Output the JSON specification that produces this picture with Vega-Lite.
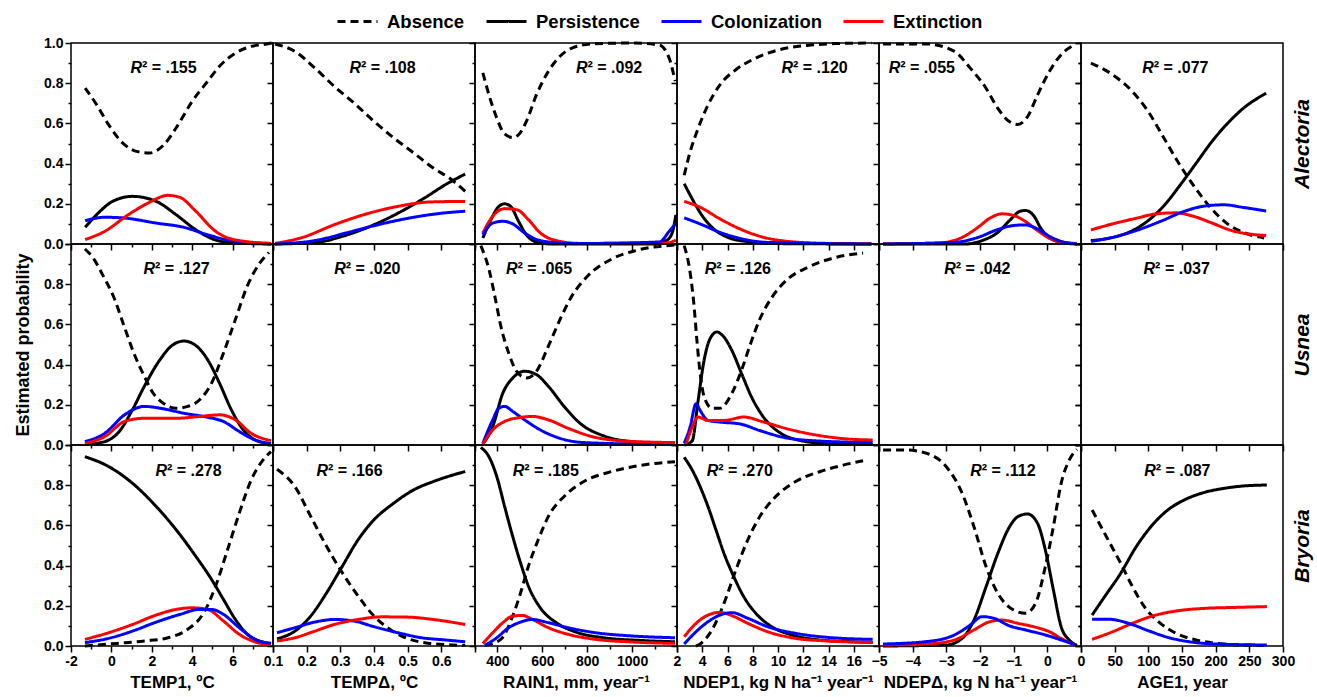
{
"$schema":"https://vega.github.io/schema/vega-lite/v6.json",
"padding":{"left":13,"top":0,"right":2,"bottom":4},
"background":"white",
"bounds":"flush",
"spacing":0,
"columns":6,
"datasets":{
"r2":[
{"p":"A1","x":0.94,"y":0.878,"t":"² = .155"},
{"p":"A2","x":0.327,"y":0.878,"t":"² = .108"},
{"p":"A3","x":750,"y":0.878,"t":"² = .092"},
{"p":"A4","x":10.28,"y":0.878,"t":"² = .120"},
{"p":"A5","x":-4.71,"y":0.878,"t":"² = .055"},
{"p":"A6","x":91,"y":0.878,"t":"² = .077"},
{"p":"U1","x":1.59,"y":0.878,"t":"² = .127"},
{"p":"U2","x":0.282,"y":0.878,"t":"² = .020"},
{"p":"U3","x":438,"y":0.878,"t":"² = .065"},
{"p":"U4","x":4.2,"y":0.878,"t":"² = .126"},
{"p":"U5","x":-3.06,"y":0.878,"t":"² = .042"},
{"p":"U6","x":93,"y":0.878,"t":"² = .037"},
{"p":"B1","x":2.18,"y":0.873,"t":"² = .278"},
{"p":"B2","x":0.229,"y":0.873,"t":"² = .166"},
{"p":"B3","x":468,"y":0.873,"t":"² = .185"},
{"p":"B4","x":4.36,"y":0.873,"t":"² = .270"},
{"p":"B5","x":-2.29,"y":0.873,"t":"² = .112"},
{"p":"B6","x":94,"y":0.873,"t":"² = .087"}
],
"curves":[
{"p":"A1","s":"Absence","x":-1.3,"y":0.776},{"p":"A1","s":"Absence","x":-0.73,"y":0.693},{"p":"A1","s":"Absence","x":-0.14,"y":0.594},{"p":"A1","s":"Absence","x":0.65,"y":0.494},{"p":"A1","s":"Absence","x":1.24,"y":0.461},{"p":"A1","s":"Absence","x":1.9,"y":0.453},{"p":"A1","s":"Absence","x":2.6,"y":0.494},{"p":"A1","s":"Absence","x":3.2,"y":0.577},{"p":"A1","s":"Absence","x":4.0,"y":0.71},{"p":"A1","s":"Absence","x":4.76,"y":0.809},{"p":"A1","s":"Absence","x":5.35,"y":0.884},{"p":"A1","s":"Absence","x":6.14,"y":0.95},{"p":"A1","s":"Absence","x":6.92,"y":0.983},{"p":"A1","s":"Absence","x":7.7,"y":0.995},{"p":"A1","s":"Absence","x":7.95,"y":1.0},
{"p":"A1","s":"Persistence","x":-1.3,"y":0.083},{"p":"A1","s":"Persistence","x":-0.73,"y":0.146},{"p":"A1","s":"Persistence","x":0.06,"y":0.212},{"p":"A1","s":"Persistence","x":1.04,"y":0.237},{"p":"A1","s":"Persistence","x":2.22,"y":0.212},{"p":"A1","s":"Persistence","x":3.2,"y":0.146},{"p":"A1","s":"Persistence","x":4.18,"y":0.071},{"p":"A1","s":"Persistence","x":5.16,"y":0.02},{"p":"A1","s":"Persistence","x":6.14,"y":0.005},{"p":"A1","s":"Persistence","x":7.9,"y":0.0},
{"p":"A1","s":"Colonization","x":-1.3,"y":0.116},{"p":"A1","s":"Colonization","x":-0.33,"y":0.133},{"p":"A1","s":"Colonization","x":0.65,"y":0.129},{"p":"A1","s":"Colonization","x":2.22,"y":0.104},{"p":"A1","s":"Colonization","x":3.59,"y":0.083},{"p":"A1","s":"Colonization","x":4.76,"y":0.046},{"p":"A1","s":"Colonization","x":5.75,"y":0.02},{"p":"A1","s":"Colonization","x":6.73,"y":0.008},{"p":"A1","s":"Colonization","x":7.9,"y":0.003},
{"p":"A1","s":"Extinction","x":-1.3,"y":0.022},{"p":"A1","s":"Extinction","x":-0.33,"y":0.063},{"p":"A1","s":"Extinction","x":0.84,"y":0.146},{"p":"A1","s":"Extinction","x":1.82,"y":0.204},{"p":"A1","s":"Extinction","x":2.8,"y":0.242},{"p":"A1","s":"Extinction","x":3.39,"y":0.232},{"p":"A1","s":"Extinction","x":4.18,"y":0.163},{"p":"A1","s":"Extinction","x":5.16,"y":0.063},{"p":"A1","s":"Extinction","x":5.94,"y":0.025},{"p":"A1","s":"Extinction","x":7.9,"y":0.002},

{"p":"A2","s":"Absence","x":0.106,"y":0.995},{"p":"A2","s":"Absence","x":0.165,"y":0.958},{"p":"A2","s":"Absence","x":0.224,"y":0.876},{"p":"A2","s":"Absence","x":0.282,"y":0.784},{"p":"A2","s":"Absence","x":0.341,"y":0.701},{"p":"A2","s":"Absence","x":0.4,"y":0.61},{"p":"A2","s":"Absence","x":0.459,"y":0.527},{"p":"A2","s":"Absence","x":0.518,"y":0.453},{"p":"A2","s":"Absence","x":0.576,"y":0.378},{"p":"A2","s":"Absence","x":0.624,"y":0.328},{"p":"A2","s":"Absence","x":0.671,"y":0.262},
{"p":"A2","s":"Persistence","x":0.106,"y":0.0},{"p":"A2","s":"Persistence","x":0.224,"y":0.007},{"p":"A2","s":"Persistence","x":0.306,"y":0.038},{"p":"A2","s":"Persistence","x":0.4,"y":0.096},{"p":"A2","s":"Persistence","x":0.482,"y":0.163},{"p":"A2","s":"Persistence","x":0.553,"y":0.232},{"p":"A2","s":"Persistence","x":0.612,"y":0.295},{"p":"A2","s":"Persistence","x":0.671,"y":0.348},
{"p":"A2","s":"Extinction","x":0.106,"y":0.003},{"p":"A2","s":"Extinction","x":0.188,"y":0.033},{"p":"A2","s":"Extinction","x":0.282,"y":0.096},{"p":"A2","s":"Extinction","x":0.376,"y":0.149},{"p":"A2","s":"Extinction","x":0.47,"y":0.187},{"p":"A2","s":"Extinction","x":0.565,"y":0.209},{"p":"A2","s":"Extinction","x":0.671,"y":0.212},
{"p":"A2","s":"Colonization","x":0.106,"y":0.0},{"p":"A2","s":"Colonization","x":0.224,"y":0.017},{"p":"A2","s":"Colonization","x":0.318,"y":0.055},{"p":"A2","s":"Colonization","x":0.412,"y":0.096},{"p":"A2","s":"Colonization","x":0.518,"y":0.133},{"p":"A2","s":"Colonization","x":0.6,"y":0.153},{"p":"A2","s":"Colonization","x":0.671,"y":0.163},

{"p":"A3","s":"Absence","x":335,"y":0.851},{"p":"A3","s":"Absence","x":362,"y":0.743},{"p":"A3","s":"Absence","x":397,"y":0.627},{"p":"A3","s":"Absence","x":430,"y":0.55},{"p":"A3","s":"Absence","x":468,"y":0.53},{"p":"A3","s":"Absence","x":495,"y":0.545},{"p":"A3","s":"Absence","x":529,"y":0.61},{"p":"A3","s":"Absence","x":574,"y":0.743},{"p":"A3","s":"Absence","x":627,"y":0.859},{"p":"A3","s":"Absence","x":679,"y":0.934},{"p":"A3","s":"Absence","x":732,"y":0.975},{"p":"A3","s":"Absence","x":821,"y":0.995},{"p":"A3","s":"Absence","x":997,"y":1.0},{"p":"A3","s":"Absence","x":1121,"y":0.99},{"p":"A3","s":"Absence","x":1165,"y":0.925},{"p":"A3","s":"Absence","x":1192,"y":0.81},
{"p":"A3","s":"Persistence","x":335,"y":0.03},{"p":"A3","s":"Persistence","x":371,"y":0.121},{"p":"A3","s":"Persistence","x":406,"y":0.187},{"p":"A3","s":"Persistence","x":432,"y":0.2},{"p":"A3","s":"Persistence","x":459,"y":0.187},{"p":"A3","s":"Persistence","x":494,"y":0.113},{"p":"A3","s":"Persistence","x":529,"y":0.046},{"p":"A3","s":"Persistence","x":574,"y":0.01},{"p":"A3","s":"Persistence","x":644,"y":0.0},{"p":"A3","s":"Persistence","x":1085,"y":0.0},{"p":"A3","s":"Persistence","x":1156,"y":0.02},{"p":"A3","s":"Persistence","x":1180,"y":0.06},{"p":"A3","s":"Persistence","x":1195,"y":0.146},
{"p":"A3","s":"Extinction","x":335,"y":0.055},{"p":"A3","s":"Extinction","x":379,"y":0.138},{"p":"A3","s":"Extinction","x":432,"y":0.176},{"p":"A3","s":"Extinction","x":485,"y":0.171},{"p":"A3","s":"Extinction","x":538,"y":0.121},{"p":"A3","s":"Extinction","x":591,"y":0.055},{"p":"A3","s":"Extinction","x":662,"y":0.017},{"p":"A3","s":"Extinction","x":768,"y":0.003},{"p":"A3","s":"Extinction","x":1156,"y":0.005},{"p":"A3","s":"Extinction","x":1195,"y":0.02},
{"p":"A3","s":"Colonization","x":335,"y":0.046},{"p":"A3","s":"Colonization","x":379,"y":0.104},{"p":"A3","s":"Colonization","x":424,"y":0.113},{"p":"A3","s":"Colonization","x":468,"y":0.1},{"p":"A3","s":"Colonization","x":521,"y":0.055},{"p":"A3","s":"Colonization","x":591,"y":0.017},{"p":"A3","s":"Colonization","x":732,"y":0.002},{"p":"A3","s":"Colonization","x":1121,"y":0.01},{"p":"A3","s":"Colonization","x":1165,"y":0.063},{"p":"A3","s":"Colonization","x":1195,"y":0.104},

{"p":"A4","s":"Absence","x":2.57,"y":0.342},{"p":"A4","s":"Absence","x":3.04,"y":0.458},{"p":"A4","s":"Absence","x":3.67,"y":0.575},{"p":"A4","s":"Absence","x":4.46,"y":0.692},{"p":"A4","s":"Absence","x":5.4,"y":0.792},{"p":"A4","s":"Absence","x":6.66,"y":0.867},{"p":"A4","s":"Absence","x":8.24,"y":0.925},{"p":"A4","s":"Absence","x":10.13,"y":0.967},{"p":"A4","s":"Absence","x":12.33,"y":0.988},{"p":"A4","s":"Absence","x":14.54,"y":0.997},{"p":"A4","s":"Absence","x":17.4,"y":1.0},
{"p":"A4","s":"Persistence","x":2.57,"y":0.3},{"p":"A4","s":"Persistence","x":3.2,"y":0.225},{"p":"A4","s":"Persistence","x":3.98,"y":0.142},{"p":"A4","s":"Persistence","x":4.77,"y":0.083},{"p":"A4","s":"Persistence","x":6.03,"y":0.033},{"p":"A4","s":"Persistence","x":7.6,"y":0.012},{"p":"A4","s":"Persistence","x":10.13,"y":0.002},{"p":"A4","s":"Persistence","x":17.4,"y":0.0},
{"p":"A4","s":"Extinction","x":2.57,"y":0.212},{"p":"A4","s":"Extinction","x":3.83,"y":0.183},{"p":"A4","s":"Extinction","x":5.4,"y":0.125},{"p":"A4","s":"Extinction","x":6.98,"y":0.075},{"p":"A4","s":"Extinction","x":8.87,"y":0.033},{"p":"A4","s":"Extinction","x":10.76,"y":0.013},{"p":"A4","s":"Extinction","x":13.9,"y":0.003},{"p":"A4","s":"Extinction","x":17.4,"y":0.001},
{"p":"A4","s":"Colonization","x":2.57,"y":0.13},{"p":"A4","s":"Colonization","x":3.83,"y":0.1},{"p":"A4","s":"Colonization","x":5.4,"y":0.058},{"p":"A4","s":"Colonization","x":6.98,"y":0.028},{"p":"A4","s":"Colonization","x":9.18,"y":0.008},{"p":"A4","s":"Colonization","x":17.4,"y":0.0},

{"p":"A5","s":"Absence","x":-4.88,"y":0.995},{"p":"A5","s":"Absence","x":-3.59,"y":0.995},{"p":"A5","s":"Absence","x":-2.76,"y":0.958},{"p":"A5","s":"Absence","x":-2.29,"y":0.875},{"p":"A5","s":"Absence","x":-1.82,"y":0.775},{"p":"A5","s":"Absence","x":-1.47,"y":0.675},{"p":"A5","s":"Absence","x":-1.12,"y":0.608},{"p":"A5","s":"Absence","x":-0.88,"y":0.595},{"p":"A5","s":"Absence","x":-0.59,"y":0.633},{"p":"A5","s":"Absence","x":-0.29,"y":0.742},{"p":"A5","s":"Absence","x":0.06,"y":0.858},{"p":"A5","s":"Absence","x":0.41,"y":0.942},{"p":"A5","s":"Absence","x":0.82,"y":0.992},
{"p":"A5","s":"Persistence","x":-4.88,"y":0.0},{"p":"A5","s":"Persistence","x":-2.41,"y":0.0},{"p":"A5","s":"Persistence","x":-1.94,"y":0.017},{"p":"A5","s":"Persistence","x":-1.47,"y":0.058},{"p":"A5","s":"Persistence","x":-1.12,"y":0.117},{"p":"A5","s":"Persistence","x":-0.82,"y":0.162},{"p":"A5","s":"Persistence","x":-0.65,"y":0.167},{"p":"A5","s":"Persistence","x":-0.41,"y":0.142},{"p":"A5","s":"Persistence","x":-0.18,"y":0.075},{"p":"A5","s":"Persistence","x":0.12,"y":0.025},{"p":"A5","s":"Persistence","x":0.53,"y":0.005},{"p":"A5","s":"Persistence","x":0.88,"y":0.0},
{"p":"A5","s":"Extinction","x":-4.88,"y":0.0},{"p":"A5","s":"Extinction","x":-3.24,"y":0.005},{"p":"A5","s":"Extinction","x":-2.53,"y":0.033},{"p":"A5","s":"Extinction","x":-2.06,"y":0.083},{"p":"A5","s":"Extinction","x":-1.71,"y":0.128},{"p":"A5","s":"Extinction","x":-1.35,"y":0.15},{"p":"A5","s":"Extinction","x":-1.0,"y":0.142},{"p":"A5","s":"Extinction","x":-0.65,"y":0.112},{"p":"A5","s":"Extinction","x":-0.29,"y":0.067},{"p":"A5","s":"Extinction","x":0.18,"y":0.02},{"p":"A5","s":"Extinction","x":0.88,"y":0.002},
{"p":"A5","s":"Colonization","x":-4.88,"y":0.0},{"p":"A5","s":"Colonization","x":-2.76,"y":0.008},{"p":"A5","s":"Colonization","x":-2.06,"y":0.033},{"p":"A5","s":"Colonization","x":-1.47,"y":0.072},{"p":"A5","s":"Colonization","x":-1.0,"y":0.092},{"p":"A5","s":"Colonization","x":-0.65,"y":0.095},{"p":"A5","s":"Colonization","x":-0.29,"y":0.075},{"p":"A5","s":"Colonization","x":0.12,"y":0.033},{"p":"A5","s":"Colonization","x":0.53,"y":0.008},{"p":"A5","s":"Colonization","x":0.88,"y":0.001},

{"p":"A6","s":"Absence","x":14.7,"y":0.9},{"p":"A6","s":"Absence","x":47,"y":0.842},{"p":"A6","s":"Absence","x":76.5,"y":0.758},{"p":"A6","s":"Absence","x":100,"y":0.658},{"p":"A6","s":"Absence","x":123.5,"y":0.525},{"p":"A6","s":"Absence","x":147,"y":0.392},{"p":"A6","s":"Absence","x":170.6,"y":0.275},{"p":"A6","s":"Absence","x":194,"y":0.175},{"p":"A6","s":"Absence","x":217.6,"y":0.1},{"p":"A6","s":"Absence","x":241,"y":0.058},{"p":"A6","s":"Absence","x":272,"y":0.03},
{"p":"A6","s":"Persistence","x":14.7,"y":0.017},{"p":"A6","s":"Persistence","x":47,"y":0.033},{"p":"A6","s":"Persistence","x":76.5,"y":0.067},{"p":"A6","s":"Persistence","x":100,"y":0.117},{"p":"A6","s":"Persistence","x":123.5,"y":0.192},{"p":"A6","s":"Persistence","x":147,"y":0.292},{"p":"A6","s":"Persistence","x":170.6,"y":0.4},{"p":"A6","s":"Persistence","x":194,"y":0.508},{"p":"A6","s":"Persistence","x":217.6,"y":0.6},{"p":"A6","s":"Persistence","x":241,"y":0.675},{"p":"A6","s":"Persistence","x":275,"y":0.75},
{"p":"A6","s":"Extinction","x":14.7,"y":0.07},{"p":"A6","s":"Extinction","x":47,"y":0.1},{"p":"A6","s":"Extinction","x":82,"y":0.128},{"p":"A6","s":"Extinction","x":112,"y":0.15},{"p":"A6","s":"Extinction","x":141,"y":0.155},{"p":"A6","s":"Extinction","x":165,"y":0.14},{"p":"A6","s":"Extinction","x":194,"y":0.105},{"p":"A6","s":"Extinction","x":223.5,"y":0.067},{"p":"A6","s":"Extinction","x":275,"y":0.042},
{"p":"A6","s":"Colonization","x":14.7,"y":0.013},{"p":"A6","s":"Colonization","x":47,"y":0.033},{"p":"A6","s":"Colonization","x":82,"y":0.067},{"p":"A6","s":"Colonization","x":117.6,"y":0.112},{"p":"A6","s":"Colonization","x":153,"y":0.162},{"p":"A6","s":"Colonization","x":182,"y":0.188},{"p":"A6","s":"Colonization","x":212,"y":0.195},{"p":"A6","s":"Colonization","x":241,"y":0.182},{"p":"A6","s":"Colonization","x":275,"y":0.164},

{"p":"U1","s":"Absence","x":-1.31,"y":0.975},{"p":"U1","s":"Absence","x":-0.9,"y":0.93},{"p":"U1","s":"Absence","x":-0.4,"y":0.84},{"p":"U1","s":"Absence","x":0.1,"y":0.74},{"p":"U1","s":"Absence","x":0.6,"y":0.6},{"p":"U1","s":"Absence","x":1.1,"y":0.46},{"p":"U1","s":"Absence","x":1.63,"y":0.342},{"p":"U1","s":"Absence","x":2.02,"y":0.265},{"p":"U1","s":"Absence","x":2.61,"y":0.205},{"p":"U1","s":"Absence","x":3.2,"y":0.183},{"p":"U1","s":"Absence","x":3.78,"y":0.192},{"p":"U1","s":"Absence","x":4.37,"y":0.225},{"p":"U1","s":"Absence","x":4.96,"y":0.308},{"p":"U1","s":"Absence","x":5.55,"y":0.458},{"p":"U1","s":"Absence","x":6.14,"y":0.625},{"p":"U1","s":"Absence","x":6.73,"y":0.792},{"p":"U1","s":"Absence","x":7.31,"y":0.9},{"p":"U1","s":"Absence","x":7.8,"y":0.958},
{"p":"U1","s":"Persistence","x":-1.31,"y":0.003},{"p":"U1","s":"Persistence","x":-0.33,"y":0.017},{"p":"U1","s":"Persistence","x":0.45,"y":0.075},{"p":"U1","s":"Persistence","x":1.04,"y":0.175},{"p":"U1","s":"Persistence","x":1.63,"y":0.292},{"p":"U1","s":"Persistence","x":2.41,"y":0.425},{"p":"U1","s":"Persistence","x":3.0,"y":0.495},{"p":"U1","s":"Persistence","x":3.59,"y":0.517},{"p":"U1","s":"Persistence","x":4.18,"y":0.495},{"p":"U1","s":"Persistence","x":4.76,"y":0.425},{"p":"U1","s":"Persistence","x":5.35,"y":0.308},{"p":"U1","s":"Persistence","x":5.94,"y":0.175},{"p":"U1","s":"Persistence","x":6.53,"y":0.075},{"p":"U1","s":"Persistence","x":7.12,"y":0.025},{"p":"U1","s":"Persistence","x":7.9,"y":0.005},
{"p":"U1","s":"Colonization","x":-1.31,"y":0.017},{"p":"U1","s":"Colonization","x":-0.33,"y":0.058},{"p":"U1","s":"Colonization","x":0.65,"y":0.15},{"p":"U1","s":"Colonization","x":1.63,"y":0.192},{"p":"U1","s":"Colonization","x":2.41,"y":0.183},{"p":"U1","s":"Colonization","x":3.59,"y":0.158},{"p":"U1","s":"Colonization","x":4.76,"y":0.138},{"p":"U1","s":"Colonization","x":5.55,"y":0.117},{"p":"U1","s":"Colonization","x":6.33,"y":0.067},{"p":"U1","s":"Colonization","x":7.12,"y":0.025},{"p":"U1","s":"Colonization","x":7.9,"y":0.008},
{"p":"U1","s":"Extinction","x":-1.31,"y":0.008},{"p":"U1","s":"Extinction","x":-0.33,"y":0.042},{"p":"U1","s":"Extinction","x":0.65,"y":0.117},{"p":"U1","s":"Extinction","x":1.63,"y":0.133},{"p":"U1","s":"Extinction","x":3.2,"y":0.133},{"p":"U1","s":"Extinction","x":4.37,"y":0.142},{"p":"U1","s":"Extinction","x":5.35,"y":0.15},{"p":"U1","s":"Extinction","x":6.14,"y":0.125},{"p":"U1","s":"Extinction","x":6.92,"y":0.058},{"p":"U1","s":"Extinction","x":7.9,"y":0.022},

{"p":"U3","s":"Absence","x":326,"y":0.992},{"p":"U3","s":"Absence","x":362,"y":0.875},{"p":"U3","s":"Absence","x":388,"y":0.742},{"p":"U3","s":"Absence","x":415,"y":0.592},{"p":"U3","s":"Absence","x":450,"y":0.458},{"p":"U3","s":"Absence","x":485,"y":0.367},{"p":"U3","s":"Absence","x":529,"y":0.333},{"p":"U3","s":"Absence","x":574,"y":0.367},{"p":"U3","s":"Absence","x":627,"y":0.492},{"p":"U3","s":"Absence","x":679,"y":0.625},{"p":"U3","s":"Absence","x":732,"y":0.742},{"p":"U3","s":"Absence","x":803,"y":0.842},{"p":"U3","s":"Absence","x":909,"y":0.925},{"p":"U3","s":"Absence","x":1015,"y":0.967},{"p":"U3","s":"Absence","x":1191,"y":0.995},
{"p":"U3","s":"Persistence","x":335,"y":0.005},{"p":"U3","s":"Persistence","x":379,"y":0.092},{"p":"U3","s":"Persistence","x":424,"y":0.258},{"p":"U3","s":"Persistence","x":468,"y":0.333},{"p":"U3","s":"Persistence","x":521,"y":0.367},{"p":"U3","s":"Persistence","x":574,"y":0.35},{"p":"U3","s":"Persistence","x":627,"y":0.292},{"p":"U3","s":"Persistence","x":697,"y":0.192},{"p":"U3","s":"Persistence","x":768,"y":0.108},{"p":"U3","s":"Persistence","x":874,"y":0.045},{"p":"U3","s":"Persistence","x":997,"y":0.017},{"p":"U3","s":"Persistence","x":1191,"y":0.005},
{"p":"U3","s":"Colonization","x":335,"y":0.008},{"p":"U3","s":"Colonization","x":379,"y":0.125},{"p":"U3","s":"Colonization","x":406,"y":0.183},{"p":"U3","s":"Colonization","x":432,"y":0.192},{"p":"U3","s":"Colonization","x":468,"y":0.167},{"p":"U3","s":"Colonization","x":521,"y":0.125},{"p":"U3","s":"Colonization","x":591,"y":0.075},{"p":"U3","s":"Colonization","x":679,"y":0.033},{"p":"U3","s":"Colonization","x":785,"y":0.012},{"p":"U3","s":"Colonization","x":1191,"y":0.002},
{"p":"U3","s":"Extinction","x":335,"y":0.005},{"p":"U3","s":"Extinction","x":379,"y":0.075},{"p":"U3","s":"Extinction","x":432,"y":0.117},{"p":"U3","s":"Extinction","x":503,"y":0.137},{"p":"U3","s":"Extinction","x":556,"y":0.142},{"p":"U3","s":"Extinction","x":627,"y":0.125},{"p":"U3","s":"Extinction","x":715,"y":0.083},{"p":"U3","s":"Extinction","x":821,"y":0.042},{"p":"U3","s":"Extinction","x":962,"y":0.02},{"p":"U3","s":"Extinction","x":1191,"y":0.012},

{"p":"U4","s":"Absence","x":2.57,"y":0.992},{"p":"U4","s":"Absence","x":3.04,"y":0.858},{"p":"U4","s":"Absence","x":3.35,"y":0.692},{"p":"U4","s":"Absence","x":3.57,"y":0.525},{"p":"U4","s":"Absence","x":3.83,"y":0.358},{"p":"U4","s":"Absence","x":4.14,"y":0.242},{"p":"U4","s":"Absence","x":4.77,"y":0.183},{"p":"U4","s":"Absence","x":5.4,"y":0.183},{"p":"U4","s":"Absence","x":6.35,"y":0.258},{"p":"U4","s":"Absence","x":7.13,"y":0.375},{"p":"U4","s":"Absence","x":7.76,"y":0.492},{"p":"U4","s":"Absence","x":8.55,"y":0.625},{"p":"U4","s":"Absence","x":9.5,"y":0.733},{"p":"U4","s":"Absence","x":10.76,"y":0.825},{"p":"U4","s":"Absence","x":12.33,"y":0.883},{"p":"U4","s":"Absence","x":14.54,"y":0.933},{"p":"U4","s":"Absence","x":16.74,"y":0.955},
{"p":"U4","s":"Persistence","x":2.57,"y":0.0},{"p":"U4","s":"Persistence","x":3.2,"y":0.02},{"p":"U4","s":"Persistence","x":3.67,"y":0.22},{"p":"U4","s":"Persistence","x":4.14,"y":0.42},{"p":"U4","s":"Persistence","x":4.61,"y":0.528},{"p":"U4","s":"Persistence","x":5.15,"y":0.562},{"p":"U4","s":"Persistence","x":5.72,"y":0.537},{"p":"U4","s":"Persistence","x":6.35,"y":0.47},{"p":"U4","s":"Persistence","x":7.13,"y":0.353},{"p":"U4","s":"Persistence","x":7.92,"y":0.237},{"p":"U4","s":"Persistence","x":8.87,"y":0.137},{"p":"U4","s":"Persistence","x":10.13,"y":0.062},{"p":"U4","s":"Persistence","x":11.7,"y":0.023},{"p":"U4","s":"Persistence","x":13.9,"y":0.007},{"p":"U4","s":"Persistence","x":17.5,"y":0.002},
{"p":"U4","s":"Colonization","x":2.57,"y":0.008},{"p":"U4","s":"Colonization","x":3.04,"y":0.09},{"p":"U4","s":"Colonization","x":3.51,"y":0.205},{"p":"U4","s":"Colonization","x":3.83,"y":0.172},{"p":"U4","s":"Colonization","x":4.46,"y":0.122},{"p":"U4","s":"Colonization","x":5.4,"y":0.114},{"p":"U4","s":"Colonization","x":6.98,"y":0.105},{"p":"U4","s":"Colonization","x":8.55,"y":0.072},{"p":"U4","s":"Colonization","x":10.44,"y":0.038},{"p":"U4","s":"Colonization","x":12.65,"y":0.022},{"p":"U4","s":"Colonization","x":17.5,"y":0.012},
{"p":"U4","s":"Extinction","x":2.72,"y":0.005},{"p":"U4","s":"Extinction","x":3.2,"y":0.089},{"p":"U4","s":"Extinction","x":3.67,"y":0.139},{"p":"U4","s":"Extinction","x":4.46,"y":0.122},{"p":"U4","s":"Extinction","x":5.72,"y":0.122},{"p":"U4","s":"Extinction","x":7.29,"y":0.139},{"p":"U4","s":"Extinction","x":8.87,"y":0.114},{"p":"U4","s":"Extinction","x":10.76,"y":0.08},{"p":"U4","s":"Extinction","x":13.27,"y":0.047},{"p":"U4","s":"Extinction","x":15.48,"y":0.03},{"p":"U4","s":"Extinction","x":17.5,"y":0.025},

{"p":"B1","s":"Persistence","x":-1.31,"y":0.942},{"p":"B1","s":"Persistence","x":-0.14,"y":0.893},{"p":"B1","s":"Persistence","x":1.04,"y":0.81},{"p":"B1","s":"Persistence","x":2.22,"y":0.694},{"p":"B1","s":"Persistence","x":3.2,"y":0.579},{"p":"B1","s":"Persistence","x":4.18,"y":0.446},{"p":"B1","s":"Persistence","x":4.96,"y":0.331},{"p":"B1","s":"Persistence","x":5.55,"y":0.231},{"p":"B1","s":"Persistence","x":6.14,"y":0.132},{"p":"B1","s":"Persistence","x":6.73,"y":0.058},{"p":"B1","s":"Persistence","x":7.31,"y":0.025},{"p":"B1","s":"Persistence","x":7.9,"y":0.013},
{"p":"B1","s":"Absence","x":-1.31,"y":0.0},{"p":"B1","s":"Absence","x":0.25,"y":0.013},{"p":"B1","s":"Absence","x":1.63,"y":0.025},{"p":"B1","s":"Absence","x":2.8,"y":0.041},{"p":"B1","s":"Absence","x":3.78,"y":0.083},{"p":"B1","s":"Absence","x":4.57,"y":0.165},{"p":"B1","s":"Absence","x":5.16,"y":0.298},{"p":"B1","s":"Absence","x":5.75,"y":0.479},{"p":"B1","s":"Absence","x":6.33,"y":0.661},{"p":"B1","s":"Absence","x":6.92,"y":0.826},{"p":"B1","s":"Absence","x":7.51,"y":0.926},{"p":"B1","s":"Absence","x":7.9,"y":0.967},
{"p":"B1","s":"Extinction","x":-1.31,"y":0.033},{"p":"B1","s":"Extinction","x":-0.14,"y":0.066},{"p":"B1","s":"Extinction","x":1.04,"y":0.107},{"p":"B1","s":"Extinction","x":2.22,"y":0.154},{"p":"B1","s":"Extinction","x":3.2,"y":0.182},{"p":"B1","s":"Extinction","x":3.98,"y":0.19},{"p":"B1","s":"Extinction","x":4.76,"y":0.182},{"p":"B1","s":"Extinction","x":5.55,"y":0.124},{"p":"B1","s":"Extinction","x":6.33,"y":0.058},{"p":"B1","s":"Extinction","x":7.12,"y":0.02},{"p":"B1","s":"Extinction","x":7.9,"y":0.005},
{"p":"B1","s":"Colonization","x":-1.31,"y":0.017},{"p":"B1","s":"Colonization","x":-0.14,"y":0.038},{"p":"B1","s":"Colonization","x":1.04,"y":0.074},{"p":"B1","s":"Colonization","x":2.22,"y":0.119},{"p":"B1","s":"Colonization","x":3.39,"y":0.157},{"p":"B1","s":"Colonization","x":4.37,"y":0.182},{"p":"B1","s":"Colonization","x":4.96,"y":0.182},{"p":"B1","s":"Colonization","x":5.55,"y":0.157},{"p":"B1","s":"Colonization","x":6.33,"y":0.091},{"p":"B1","s":"Colonization","x":7.12,"y":0.033},{"p":"B1","s":"Colonization","x":7.9,"y":0.013},

{"p":"B2","s":"Absence","x":0.112,"y":0.879},{"p":"B2","s":"Absence","x":0.165,"y":0.793},{"p":"B2","s":"Absence","x":0.212,"y":0.645},{"p":"B2","s":"Absence","x":0.259,"y":0.496},{"p":"B2","s":"Absence","x":0.306,"y":0.364},{"p":"B2","s":"Absence","x":0.353,"y":0.248},{"p":"B2","s":"Absence","x":0.4,"y":0.149},{"p":"B2","s":"Absence","x":0.447,"y":0.083},{"p":"B2","s":"Absence","x":0.494,"y":0.041},{"p":"B2","s":"Absence","x":0.565,"y":0.013},{"p":"B2","s":"Absence","x":0.671,"y":0.003},
{"p":"B2","s":"Persistence","x":0.112,"y":0.036},{"p":"B2","s":"Persistence","x":0.165,"y":0.074},{"p":"B2","s":"Persistence","x":0.212,"y":0.149},{"p":"B2","s":"Persistence","x":0.259,"y":0.264},{"p":"B2","s":"Persistence","x":0.306,"y":0.397},{"p":"B2","s":"Persistence","x":0.353,"y":0.529},{"p":"B2","s":"Persistence","x":0.4,"y":0.628},{"p":"B2","s":"Persistence","x":0.459,"y":0.711},{"p":"B2","s":"Persistence","x":0.518,"y":0.777},{"p":"B2","s":"Persistence","x":0.576,"y":0.818},{"p":"B2","s":"Persistence","x":0.635,"y":0.851},{"p":"B2","s":"Persistence","x":0.671,"y":0.868},
{"p":"B2","s":"Colonization","x":0.112,"y":0.066},{"p":"B2","s":"Colonization","x":0.165,"y":0.091},{"p":"B2","s":"Colonization","x":0.224,"y":0.119},{"p":"B2","s":"Colonization","x":0.282,"y":0.132},{"p":"B2","s":"Colonization","x":0.341,"y":0.124},{"p":"B2","s":"Colonization","x":0.4,"y":0.096},{"p":"B2","s":"Colonization","x":0.471,"y":0.066},{"p":"B2","s":"Colonization","x":0.541,"y":0.041},{"p":"B2","s":"Colonization","x":0.612,"y":0.03},{"p":"B2","s":"Colonization","x":0.671,"y":0.021},
{"p":"B2","s":"Extinction","x":0.112,"y":0.025},{"p":"B2","s":"Extinction","x":0.165,"y":0.041},{"p":"B2","s":"Extinction","x":0.224,"y":0.074},{"p":"B2","s":"Extinction","x":0.282,"y":0.107},{"p":"B2","s":"Extinction","x":0.353,"y":0.132},{"p":"B2","s":"Extinction","x":0.424,"y":0.145},{"p":"B2","s":"Extinction","x":0.494,"y":0.144},{"p":"B2","s":"Extinction","x":0.576,"y":0.132},{"p":"B2","s":"Extinction","x":0.671,"y":0.107},

{"p":"B3","s":"Persistence","x":326,"y":0.988},{"p":"B3","s":"Persistence","x":362,"y":0.942},{"p":"B3","s":"Persistence","x":397,"y":0.843},{"p":"B3","s":"Persistence","x":432,"y":0.694},{"p":"B3","s":"Persistence","x":468,"y":0.545},{"p":"B3","s":"Persistence","x":503,"y":0.413},{"p":"B3","s":"Persistence","x":538,"y":0.298},{"p":"B3","s":"Persistence","x":591,"y":0.19},{"p":"B3","s":"Persistence","x":662,"y":0.116},{"p":"B3","s":"Persistence","x":750,"y":0.069},{"p":"B3","s":"Persistence","x":874,"y":0.041},{"p":"B3","s":"Persistence","x":1032,"y":0.028},{"p":"B3","s":"Persistence","x":1191,"y":0.021},
{"p":"B3","s":"Absence","x":344,"y":0.003},{"p":"B3","s":"Absence","x":415,"y":0.033},{"p":"B3","s":"Absence","x":468,"y":0.149},{"p":"B3","s":"Absence","x":503,"y":0.264},{"p":"B3","s":"Absence","x":538,"y":0.397},{"p":"B3","s":"Absence","x":582,"y":0.529},{"p":"B3","s":"Absence","x":627,"y":0.645},{"p":"B3","s":"Absence","x":697,"y":0.744},{"p":"B3","s":"Absence","x":785,"y":0.818},{"p":"B3","s":"Absence","x":909,"y":0.868},{"p":"B3","s":"Absence","x":1050,"y":0.901},{"p":"B3","s":"Absence","x":1191,"y":0.917},
{"p":"B3","s":"Extinction","x":335,"y":0.013},{"p":"B3","s":"Extinction","x":379,"y":0.066},{"p":"B3","s":"Extinction","x":424,"y":0.116},{"p":"B3","s":"Extinction","x":468,"y":0.149},{"p":"B3","s":"Extinction","x":512,"y":0.152},{"p":"B3","s":"Extinction","x":556,"y":0.132},{"p":"B3","s":"Extinction","x":627,"y":0.091},{"p":"B3","s":"Extinction","x":715,"y":0.058},{"p":"B3","s":"Extinction","x":838,"y":0.033},{"p":"B3","s":"Extinction","x":997,"y":0.02},{"p":"B3","s":"Extinction","x":1191,"y":0.013},
{"p":"B3","s":"Colonization","x":344,"y":0.003},{"p":"B3","s":"Colonization","x":397,"y":0.041},{"p":"B3","s":"Colonization","x":450,"y":0.091},{"p":"B3","s":"Colonization","x":503,"y":0.119},{"p":"B3","s":"Colonization","x":556,"y":0.132},{"p":"B3","s":"Colonization","x":627,"y":0.116},{"p":"B3","s":"Colonization","x":715,"y":0.091},{"p":"B3","s":"Colonization","x":838,"y":0.066},{"p":"B3","s":"Colonization","x":997,"y":0.05},{"p":"B3","s":"Colonization","x":1191,"y":0.041},

{"p":"B4","s":"Persistence","x":2.57,"y":0.939},{"p":"B4","s":"Persistence","x":3.2,"y":0.876},{"p":"B4","s":"Persistence","x":3.83,"y":0.793},{"p":"B4","s":"Persistence","x":4.46,"y":0.693},{"p":"B4","s":"Persistence","x":5.09,"y":0.577},{"p":"B4","s":"Persistence","x":5.72,"y":0.461},{"p":"B4","s":"Persistence","x":6.5,"y":0.345},{"p":"B4","s":"Persistence","x":7.29,"y":0.245},{"p":"B4","s":"Persistence","x":8.24,"y":0.163},{"p":"B4","s":"Persistence","x":9.5,"y":0.096},{"p":"B4","s":"Persistence","x":11.07,"y":0.055},{"p":"B4","s":"Persistence","x":13.28,"y":0.03},{"p":"B4","s":"Persistence","x":15.48,"y":0.022},{"p":"B4","s":"Persistence","x":17.5,"y":0.018},
{"p":"B4","s":"Absence","x":3.5,"y":0.0},{"p":"B4","s":"Absence","x":3.83,"y":0.01},{"p":"B4","s":"Absence","x":4.77,"y":0.08},{"p":"B4","s":"Absence","x":5.72,"y":0.212},{"p":"B4","s":"Absence","x":6.66,"y":0.378},{"p":"B4","s":"Absence","x":7.6,"y":0.527},{"p":"B4","s":"Absence","x":8.55,"y":0.643},{"p":"B4","s":"Absence","x":9.81,"y":0.743},{"p":"B4","s":"Absence","x":11.39,"y":0.818},{"p":"B4","s":"Absence","x":13.28,"y":0.867},{"p":"B4","s":"Absence","x":15.17,"y":0.9},{"p":"B4","s":"Absence","x":16.74,"y":0.922},
{"p":"B4","s":"Extinction","x":2.57,"y":0.046},{"p":"B4","s":"Extinction","x":3.51,"y":0.113},{"p":"B4","s":"Extinction","x":4.46,"y":0.154},{"p":"B4","s":"Extinction","x":5.4,"y":0.167},{"p":"B4","s":"Extinction","x":6.35,"y":0.151},{"p":"B4","s":"Extinction","x":7.6,"y":0.113},{"p":"B4","s":"Extinction","x":9.18,"y":0.071},{"p":"B4","s":"Extinction","x":11.39,"y":0.038},{"p":"B4","s":"Extinction","x":13.9,"y":0.025},{"p":"B4","s":"Extinction","x":17.5,"y":0.018},
{"p":"B4","s":"Colonization","x":2.57,"y":0.01},{"p":"B4","s":"Colonization","x":3.51,"y":0.071},{"p":"B4","s":"Colonization","x":4.46,"y":0.121},{"p":"B4","s":"Colonization","x":5.4,"y":0.154},{"p":"B4","s":"Colonization","x":6.35,"y":0.166},{"p":"B4","s":"Colonization","x":7.6,"y":0.138},{"p":"B4","s":"Colonization","x":9.18,"y":0.096},{"p":"B4","s":"Colonization","x":11.39,"y":0.063},{"p":"B4","s":"Colonization","x":13.9,"y":0.043},{"p":"B4","s":"Colonization","x":17.5,"y":0.033},

{"p":"B5","s":"Absence","x":-4.88,"y":0.975},{"p":"B5","s":"Absence","x":-4.18,"y":0.975},{"p":"B5","s":"Absence","x":-3.59,"y":0.959},{"p":"B5","s":"Absence","x":-3.0,"y":0.892},{"p":"B5","s":"Absence","x":-2.53,"y":0.76},{"p":"B5","s":"Absence","x":-2.18,"y":0.594},{"p":"B5","s":"Absence","x":-1.82,"y":0.395},{"p":"B5","s":"Absence","x":-1.47,"y":0.262},{"p":"B5","s":"Absence","x":-1.0,"y":0.179},{"p":"B5","s":"Absence","x":-0.65,"y":0.163},{"p":"B5","s":"Absence","x":-0.35,"y":0.212},{"p":"B5","s":"Absence","x":-0.06,"y":0.395},{"p":"B5","s":"Absence","x":0.18,"y":0.594},{"p":"B5","s":"Absence","x":0.41,"y":0.809},{"p":"B5","s":"Absence","x":0.65,"y":0.925},{"p":"B5","s":"Absence","x":0.88,"y":0.978},
{"p":"B5","s":"Persistence","x":-4.88,"y":0.0},{"p":"B5","s":"Persistence","x":-3.0,"y":0.005},{"p":"B5","s":"Persistence","x":-2.53,"y":0.038},{"p":"B5","s":"Persistence","x":-2.18,"y":0.129},{"p":"B5","s":"Persistence","x":-1.82,"y":0.295},{"p":"B5","s":"Persistence","x":-1.47,"y":0.461},{"p":"B5","s":"Persistence","x":-1.12,"y":0.594},{"p":"B5","s":"Persistence","x":-0.88,"y":0.643},{"p":"B5","s":"Persistence","x":-0.59,"y":0.657},{"p":"B5","s":"Persistence","x":-0.29,"y":0.61},{"p":"B5","s":"Persistence","x":-0.06,"y":0.478},{"p":"B5","s":"Persistence","x":0.18,"y":0.279},{"p":"B5","s":"Persistence","x":0.41,"y":0.096},{"p":"B5","s":"Persistence","x":0.65,"y":0.03},{"p":"B5","s":"Persistence","x":0.88,"y":0.003},
{"p":"B5","s":"Extinction","x":-4.88,"y":0.005},{"p":"B5","s":"Extinction","x":-3.59,"y":0.01},{"p":"B5","s":"Extinction","x":-2.76,"y":0.03},{"p":"B5","s":"Extinction","x":-2.18,"y":0.08},{"p":"B5","s":"Extinction","x":-1.71,"y":0.121},{"p":"B5","s":"Extinction","x":-1.35,"y":0.129},{"p":"B5","s":"Extinction","x":-0.88,"y":0.113},{"p":"B5","s":"Extinction","x":-0.41,"y":0.096},{"p":"B5","s":"Extinction","x":0.06,"y":0.071},{"p":"B5","s":"Extinction","x":0.41,"y":0.038},{"p":"B5","s":"Extinction","x":0.82,"y":0.005},
{"p":"B5","s":"Colonization","x":-4.88,"y":0.01},{"p":"B5","s":"Colonization","x":-3.59,"y":0.022},{"p":"B5","s":"Colonization","x":-2.76,"y":0.055},{"p":"B5","s":"Colonization","x":-2.29,"y":0.104},{"p":"B5","s":"Colonization","x":-1.94,"y":0.146},{"p":"B5","s":"Colonization","x":-1.59,"y":0.138},{"p":"B5","s":"Colonization","x":-1.12,"y":0.1},{"p":"B5","s":"Colonization","x":-0.65,"y":0.08},{"p":"B5","s":"Colonization","x":-0.06,"y":0.055},{"p":"B5","s":"Colonization","x":0.41,"y":0.03},{"p":"B5","s":"Colonization","x":0.82,"y":0.007},

{"p":"B6","s":"Persistence","x":16.5,"y":0.154},{"p":"B6","s":"Persistence","x":35,"y":0.245},{"p":"B6","s":"Persistence","x":59,"y":0.362},{"p":"B6","s":"Persistence","x":82,"y":0.494},{"p":"B6","s":"Persistence","x":106,"y":0.602},{"p":"B6","s":"Persistence","x":129,"y":0.677},{"p":"B6","s":"Persistence","x":153,"y":0.726},{"p":"B6","s":"Persistence","x":182,"y":0.763},{"p":"B6","s":"Persistence","x":212,"y":0.784},{"p":"B6","s":"Persistence","x":241,"y":0.796},{"p":"B6","s":"Persistence","x":276,"y":0.801},
{"p":"B6","s":"Absence","x":16.5,"y":0.677},{"p":"B6","s":"Absence","x":35,"y":0.561},{"p":"B6","s":"Absence","x":59,"y":0.411},{"p":"B6","s":"Absence","x":76.5,"y":0.295},{"p":"B6","s":"Absence","x":94,"y":0.196},{"p":"B6","s":"Absence","x":118,"y":0.113},{"p":"B6","s":"Absence","x":141,"y":0.063},{"p":"B6","s":"Absence","x":171,"y":0.03},{"p":"B6","s":"Absence","x":212,"y":0.01},{"p":"B6","s":"Absence","x":271,"y":0.002},
{"p":"B6","s":"Extinction","x":16.5,"y":0.033},{"p":"B6","s":"Extinction","x":47,"y":0.071},{"p":"B6","s":"Extinction","x":76.5,"y":0.113},{"p":"B6","s":"Extinction","x":106,"y":0.149},{"p":"B6","s":"Extinction","x":141,"y":0.174},{"p":"B6","s":"Extinction","x":182,"y":0.187},{"p":"B6","s":"Extinction","x":229,"y":0.192},{"p":"B6","s":"Extinction","x":276,"y":0.196},
{"p":"B6","s":"Colonization","x":16.5,"y":0.133},{"p":"B6","s":"Colonization","x":41,"y":0.133},{"p":"B6","s":"Colonization","x":70.6,"y":0.113},{"p":"B6","s":"Colonization","x":100,"y":0.076},{"p":"B6","s":"Colonization","x":129,"y":0.043},{"p":"B6","s":"Colonization","x":159,"y":0.022},{"p":"B6","s":"Colonization","x":200,"y":0.01},{"p":"B6","s":"Colonization","x":276,"y":0.005}
]
},
"concat":[
{"width":202,"height":201,
 "encoding":{
  "x":{"field":"x","type":"quantitative","scale":{"domain":[-2,8],"nice":false,"zero":false},"axis":{"values":[-2,-1,0,1,2,3,4,5,6,7,8],"tickSize":{"condition":{"test":"datum.value % 2 == 0","value":6},"value":3},"labels":false,"title":null}},
  "y":{"field":"y","type":"quantitative","scale":{"domain":[0,1],"nice":false,"zero":false},"axis":{"values":[0,0.1,0.2,0.3,0.4,0.5,0.6,0.7,0.8,0.9,1],"format":".1f","tickSize":{"condition":{"test":"abs(datum.value*5-round(datum.value*5))<0.01","value":6},"value":3},"labelExpr":"abs(datum.value*5-round(datum.value*5))<0.01 ? datum.label : ''","title":null}}},
 "layer":[
 {"data":{"name":"curves"},"transform":[{"filter":"datum.p == 'A1'"}],"mark":{"type":"line"},
  "encoding":{
   "color":{"field":"s","type":"nominal","title":null,"scale":{"domain":["Absence","Persistence","Colonization","Extinction"],"range":["#000000","#000000","#0000ff","#ff0000"]},"legend":{"orient":"none","legendX":265,"legendY":-43,"direction":"horizontal","gridAlign":"none"}},
   "strokeDash":{"field":"s","type":"nominal","title":null,"scale":{"domain":["Absence","Persistence","Colonization","Extinction"],"range":[[8,5],[1,0],[1,0],[1,0]]},"legend":{"orient":"none","legendX":265,"legendY":-43,"direction":"horizontal","gridAlign":"none"}}}},
 {"data":{"name":"r2"},"transform":[{"filter":"datum.p == 'A1'"}],"mark":{"type":"text","text":"R","fontStyle":"italic","fontWeight":"bold","fontSize":16,"align":"left","baseline":"middle"}},
 {"data":{"name":"r2"},"transform":[{"filter":"datum.p == 'A1'"}],"mark":{"type":"text","fontWeight":"bold","fontSize":16,"align":"left","baseline":"middle","dx":11.5},"encoding":{"text":{"field":"t"}}}
]},
{"width":202,"height":201,
 "encoding":{
  "x":{"field":"x","type":"quantitative","scale":{"domain":[0.1,0.7],"nice":false,"zero":false},"axis":{"values":[0.1,0.2,0.3,0.4,0.5,0.6,0.7],"tickSize":6,"labels":false,"title":null}},
  "y":{"field":"y","type":"quantitative","scale":{"domain":[0,1],"nice":false,"zero":false},"axis":{"values":[0,0.1,0.2,0.3,0.4,0.5,0.6,0.7,0.8,0.9,1],"tickSize":{"condition":{"test":"abs(datum.value*5-round(datum.value*5))<0.01","value":6},"value":3},"labels":false,"title":null}}},
 "layer":[
 {"data":{"name":"curves"},"transform":[{"filter":"datum.p == 'A2'"}],"mark":{"type":"line"},
  "encoding":{
   "color":{"field":"s","type":"nominal","title":null,"scale":{"domain":["Absence","Persistence","Colonization","Extinction"],"range":["#000000","#000000","#0000ff","#ff0000"]}},
   "strokeDash":{"field":"s","type":"nominal","title":null,"scale":{"domain":["Absence","Persistence","Colonization","Extinction"],"range":[[8,5],[1,0],[1,0],[1,0]]}}}},
 {"data":{"name":"r2"},"transform":[{"filter":"datum.p == 'A2'"}],"mark":{"type":"text","text":"R","fontStyle":"italic","fontWeight":"bold","fontSize":16,"align":"left","baseline":"middle"}},
 {"data":{"name":"r2"},"transform":[{"filter":"datum.p == 'A2'"}],"mark":{"type":"text","fontWeight":"bold","fontSize":16,"align":"left","baseline":"middle","dx":11.5},"encoding":{"text":{"field":"t"}}}
]},
{"width":202,"height":201,
 "encoding":{
  "x":{"field":"x","type":"quantitative","scale":{"domain":[300,1200],"nice":false,"zero":false},"axis":{"values":[300,400,500,600,700,800,900,1000,1100,1200],"tickSize":{"condition":{"test":"datum.value % 200 == 0","value":6},"value":3},"labels":false,"title":null}},
  "y":{"field":"y","type":"quantitative","scale":{"domain":[0,1],"nice":false,"zero":false},"axis":{"values":[0,0.1,0.2,0.3,0.4,0.5,0.6,0.7,0.8,0.9,1],"tickSize":{"condition":{"test":"abs(datum.value*5-round(datum.value*5))<0.01","value":6},"value":3},"labels":false,"title":null}}},
 "layer":[
 {"data":{"name":"curves"},"transform":[{"filter":"datum.p == 'A3'"}],"mark":{"type":"line"},
  "encoding":{
   "color":{"field":"s","type":"nominal","title":null,"scale":{"domain":["Absence","Persistence","Colonization","Extinction"],"range":["#000000","#000000","#0000ff","#ff0000"]}},
   "strokeDash":{"field":"s","type":"nominal","title":null,"scale":{"domain":["Absence","Persistence","Colonization","Extinction"],"range":[[8,5],[1,0],[1,0],[1,0]]}}}},
 {"data":{"name":"r2"},"transform":[{"filter":"datum.p == 'A3'"}],"mark":{"type":"text","text":"R","fontStyle":"italic","fontWeight":"bold","fontSize":16,"align":"left","baseline":"middle"}},
 {"data":{"name":"r2"},"transform":[{"filter":"datum.p == 'A3'"}],"mark":{"type":"text","fontWeight":"bold","fontSize":16,"align":"left","baseline":"middle","dx":11.5},"encoding":{"text":{"field":"t"}}}
]},
{"width":202,"height":201,
 "encoding":{
  "x":{"field":"x","type":"quantitative","scale":{"domain":[2,18],"nice":false,"zero":false},"axis":{"values":[2,4,6,8,10,12,14,16,18],"tickSize":6,"labels":false,"title":null}},
  "y":{"field":"y","type":"quantitative","scale":{"domain":[0,1],"nice":false,"zero":false},"axis":{"values":[0,0.1,0.2,0.3,0.4,0.5,0.6,0.7,0.8,0.9,1],"tickSize":{"condition":{"test":"abs(datum.value*5-round(datum.value*5))<0.01","value":6},"value":3},"labels":false,"title":null}}},
 "layer":[
 {"data":{"name":"curves"},"transform":[{"filter":"datum.p == 'A4'"}],"mark":{"type":"line"},
  "encoding":{
   "color":{"field":"s","type":"nominal","title":null,"scale":{"domain":["Absence","Persistence","Colonization","Extinction"],"range":["#000000","#000000","#0000ff","#ff0000"]}},
   "strokeDash":{"field":"s","type":"nominal","title":null,"scale":{"domain":["Absence","Persistence","Colonization","Extinction"],"range":[[8,5],[1,0],[1,0],[1,0]]}}}},
 {"data":{"name":"r2"},"transform":[{"filter":"datum.p == 'A4'"}],"mark":{"type":"text","text":"R","fontStyle":"italic","fontWeight":"bold","fontSize":16,"align":"left","baseline":"middle"}},
 {"data":{"name":"r2"},"transform":[{"filter":"datum.p == 'A4'"}],"mark":{"type":"text","fontWeight":"bold","fontSize":16,"align":"left","baseline":"middle","dx":11.5},"encoding":{"text":{"field":"t"}}}
]},
{"width":202,"height":201,
 "encoding":{
  "x":{"field":"x","type":"quantitative","scale":{"domain":[-5,1],"nice":false,"zero":false},"axis":{"values":[-5,-4,-3,-2,-1,0,1],"tickSize":6,"labels":false,"title":null}},
  "y":{"field":"y","type":"quantitative","scale":{"domain":[0,1],"nice":false,"zero":false},"axis":{"values":[0,0.1,0.2,0.3,0.4,0.5,0.6,0.7,0.8,0.9,1],"tickSize":{"condition":{"test":"abs(datum.value*5-round(datum.value*5))<0.01","value":6},"value":3},"labels":false,"title":null}}},
 "layer":[
 {"data":{"name":"curves"},"transform":[{"filter":"datum.p == 'A5'"}],"mark":{"type":"line"},
  "encoding":{
   "color":{"field":"s","type":"nominal","title":null,"scale":{"domain":["Absence","Persistence","Colonization","Extinction"],"range":["#000000","#000000","#0000ff","#ff0000"]}},
   "strokeDash":{"field":"s","type":"nominal","title":null,"scale":{"domain":["Absence","Persistence","Colonization","Extinction"],"range":[[8,5],[1,0],[1,0],[1,0]]}}}},
 {"data":{"name":"r2"},"transform":[{"filter":"datum.p == 'A5'"}],"mark":{"type":"text","text":"R","fontStyle":"italic","fontWeight":"bold","fontSize":16,"align":"left","baseline":"middle"}},
 {"data":{"name":"r2"},"transform":[{"filter":"datum.p == 'A5'"}],"mark":{"type":"text","fontWeight":"bold","fontSize":16,"align":"left","baseline":"middle","dx":11.5},"encoding":{"text":{"field":"t"}}}
]},
{"width":202,"height":201,"resolve":{"axis":{"y":"independent"}},
 "encoding":{
  "x":{"field":"x","type":"quantitative","scale":{"domain":[0,300],"nice":false,"zero":false},"axis":{"values":[0,50,100,150,200,250,300],"tickSize":6,"labels":false,"title":null}},
  "y":{"field":"y","type":"quantitative","scale":{"domain":[0,1],"nice":false,"zero":false},"axis":{"orient":"left","values":[0,0.1,0.2,0.3,0.4,0.5,0.6,0.7,0.8,0.9,1],"tickSize":{"condition":{"test":"abs(datum.value*5-round(datum.value*5))<0.01","value":6},"value":3},"labels":false,"title":null}}},
 "layer":[
 {"data":{"name":"curves"},"transform":[{"filter":"datum.p == 'A6'"}],"mark":{"type":"line"},
  "encoding":{
   "color":{"field":"s","type":"nominal","title":null,"scale":{"domain":["Absence","Persistence","Colonization","Extinction"],"range":["#000000","#000000","#0000ff","#ff0000"]}},
   "strokeDash":{"field":"s","type":"nominal","title":null,"scale":{"domain":["Absence","Persistence","Colonization","Extinction"],"range":[[8,5],[1,0],[1,0],[1,0]]}}}},
 {"data":{"name":"r2"},"transform":[{"filter":"datum.p == 'A6'"}],"mark":{"type":"text","text":"R","fontStyle":"italic","fontWeight":"bold","fontSize":16,"align":"left","baseline":"middle"},"encoding":{"y":{"field":"y","type":"quantitative","axis":{"orient":"right","ticks":false,"labels":false,"domain":false,"title":"Alectoria","titleAngle":270,"titleBaseline":"top","titleFontStyle":"italic","titleFontSize":21,"titlePadding":8}}}},
 {"data":{"name":"r2"},"transform":[{"filter":"datum.p == 'A6'"}],"mark":{"type":"text","fontWeight":"bold","fontSize":16,"align":"left","baseline":"middle","dx":11.5},"encoding":{"text":{"field":"t"}}}
]},

{"width":202,"height":201,
 "encoding":{
  "x":{"field":"x","type":"quantitative","scale":{"domain":[-2,8],"nice":false,"zero":false},"axis":{"values":[-2,-1,0,1,2,3,4,5,6,7,8],"tickSize":{"condition":{"test":"datum.value % 2 == 0","value":6},"value":3},"labels":false,"title":null}},
  "y":{"field":"y","type":"quantitative","scale":{"domain":[0,1],"nice":false,"zero":false},"axis":{"values":[0,0.1,0.2,0.3,0.4,0.5,0.6,0.7,0.8,0.9,1],"format":".1f","tickSize":{"condition":{"test":"abs(datum.value*5-round(datum.value*5))<0.01","value":6},"value":3},"labelExpr":"abs(datum.value*5-round(datum.value*5))<0.01 && datum.value < 0.95 ? datum.label : ''","title":"Estimated probability","titleFontSize":18,"titlePadding":11}}},
 "layer":[
 {"data":{"name":"curves"},"transform":[{"filter":"datum.p == 'U1'"}],"mark":{"type":"line"},
  "encoding":{
   "color":{"field":"s","type":"nominal","title":null,"scale":{"domain":["Absence","Persistence","Colonization","Extinction"],"range":["#000000","#000000","#0000ff","#ff0000"]}},
   "strokeDash":{"field":"s","type":"nominal","title":null,"scale":{"domain":["Absence","Persistence","Colonization","Extinction"],"range":[[8,5],[1,0],[1,0],[1,0]]}}}},
 {"data":{"name":"r2"},"transform":[{"filter":"datum.p == 'U1'"}],"mark":{"type":"text","text":"R","fontStyle":"italic","fontWeight":"bold","fontSize":16,"align":"left","baseline":"middle"}},
 {"data":{"name":"r2"},"transform":[{"filter":"datum.p == 'U1'"}],"mark":{"type":"text","fontWeight":"bold","fontSize":16,"align":"left","baseline":"middle","dx":11.5},"encoding":{"text":{"field":"t"}}}
]},
{"width":202,"height":201,
 "encoding":{
  "x":{"field":"x","type":"quantitative","scale":{"domain":[0.1,0.7],"nice":false,"zero":false},"axis":{"values":[0.1,0.2,0.3,0.4,0.5,0.6,0.7],"tickSize":6,"labels":false,"title":null}},
  "y":{"field":"y","type":"quantitative","scale":{"domain":[0,1],"nice":false,"zero":false},"axis":{"values":[0,0.1,0.2,0.3,0.4,0.5,0.6,0.7,0.8,0.9,1],"tickSize":{"condition":{"test":"abs(datum.value*5-round(datum.value*5))<0.01","value":6},"value":3},"labels":false,"title":null}}},
 "layer":[
 {"data":{"name":"curves"},"transform":[{"filter":"datum.p == 'U2'"}],"mark":{"type":"line"},
  "encoding":{
   "color":{"field":"s","type":"nominal","title":null,"scale":{"domain":["Absence","Persistence","Colonization","Extinction"],"range":["#000000","#000000","#0000ff","#ff0000"]}},
   "strokeDash":{"field":"s","type":"nominal","title":null,"scale":{"domain":["Absence","Persistence","Colonization","Extinction"],"range":[[8,5],[1,0],[1,0],[1,0]]}}}},
 {"data":{"name":"r2"},"transform":[{"filter":"datum.p == 'U2'"}],"mark":{"type":"text","text":"R","fontStyle":"italic","fontWeight":"bold","fontSize":16,"align":"left","baseline":"middle"}},
 {"data":{"name":"r2"},"transform":[{"filter":"datum.p == 'U2'"}],"mark":{"type":"text","fontWeight":"bold","fontSize":16,"align":"left","baseline":"middle","dx":11.5},"encoding":{"text":{"field":"t"}}}
]},
{"width":202,"height":201,
 "encoding":{
  "x":{"field":"x","type":"quantitative","scale":{"domain":[300,1200],"nice":false,"zero":false},"axis":{"values":[300,400,500,600,700,800,900,1000,1100,1200],"tickSize":{"condition":{"test":"datum.value % 200 == 0","value":6},"value":3},"labels":false,"title":null}},
  "y":{"field":"y","type":"quantitative","scale":{"domain":[0,1],"nice":false,"zero":false},"axis":{"values":[0,0.1,0.2,0.3,0.4,0.5,0.6,0.7,0.8,0.9,1],"tickSize":{"condition":{"test":"abs(datum.value*5-round(datum.value*5))<0.01","value":6},"value":3},"labels":false,"title":null}}},
 "layer":[
 {"data":{"name":"curves"},"transform":[{"filter":"datum.p == 'U3'"}],"mark":{"type":"line"},
  "encoding":{
   "color":{"field":"s","type":"nominal","title":null,"scale":{"domain":["Absence","Persistence","Colonization","Extinction"],"range":["#000000","#000000","#0000ff","#ff0000"]}},
   "strokeDash":{"field":"s","type":"nominal","title":null,"scale":{"domain":["Absence","Persistence","Colonization","Extinction"],"range":[[8,5],[1,0],[1,0],[1,0]]}}}},
 {"data":{"name":"r2"},"transform":[{"filter":"datum.p == 'U3'"}],"mark":{"type":"text","text":"R","fontStyle":"italic","fontWeight":"bold","fontSize":16,"align":"left","baseline":"middle"}},
 {"data":{"name":"r2"},"transform":[{"filter":"datum.p == 'U3'"}],"mark":{"type":"text","fontWeight":"bold","fontSize":16,"align":"left","baseline":"middle","dx":11.5},"encoding":{"text":{"field":"t"}}}
]},
{"width":202,"height":201,
 "encoding":{
  "x":{"field":"x","type":"quantitative","scale":{"domain":[2,18],"nice":false,"zero":false},"axis":{"values":[2,4,6,8,10,12,14,16,18],"tickSize":6,"labels":false,"title":null}},
  "y":{"field":"y","type":"quantitative","scale":{"domain":[0,1],"nice":false,"zero":false},"axis":{"values":[0,0.1,0.2,0.3,0.4,0.5,0.6,0.7,0.8,0.9,1],"tickSize":{"condition":{"test":"abs(datum.value*5-round(datum.value*5))<0.01","value":6},"value":3},"labels":false,"title":null}}},
 "layer":[
 {"data":{"name":"curves"},"transform":[{"filter":"datum.p == 'U4'"}],"mark":{"type":"line"},
  "encoding":{
   "color":{"field":"s","type":"nominal","title":null,"scale":{"domain":["Absence","Persistence","Colonization","Extinction"],"range":["#000000","#000000","#0000ff","#ff0000"]}},
   "strokeDash":{"field":"s","type":"nominal","title":null,"scale":{"domain":["Absence","Persistence","Colonization","Extinction"],"range":[[8,5],[1,0],[1,0],[1,0]]}}}},
 {"data":{"name":"r2"},"transform":[{"filter":"datum.p == 'U4'"}],"mark":{"type":"text","text":"R","fontStyle":"italic","fontWeight":"bold","fontSize":16,"align":"left","baseline":"middle"}},
 {"data":{"name":"r2"},"transform":[{"filter":"datum.p == 'U4'"}],"mark":{"type":"text","fontWeight":"bold","fontSize":16,"align":"left","baseline":"middle","dx":11.5},"encoding":{"text":{"field":"t"}}}
]},
{"width":202,"height":201,
 "encoding":{
  "x":{"field":"x","type":"quantitative","scale":{"domain":[-5,1],"nice":false,"zero":false},"axis":{"values":[-5,-4,-3,-2,-1,0,1],"tickSize":6,"labels":false,"title":null}},
  "y":{"field":"y","type":"quantitative","scale":{"domain":[0,1],"nice":false,"zero":false},"axis":{"values":[0,0.1,0.2,0.3,0.4,0.5,0.6,0.7,0.8,0.9,1],"tickSize":{"condition":{"test":"abs(datum.value*5-round(datum.value*5))<0.01","value":6},"value":3},"labels":false,"title":null}}},
 "layer":[
 {"data":{"name":"curves"},"transform":[{"filter":"datum.p == 'U5'"}],"mark":{"type":"line"},
  "encoding":{
   "color":{"field":"s","type":"nominal","title":null,"scale":{"domain":["Absence","Persistence","Colonization","Extinction"],"range":["#000000","#000000","#0000ff","#ff0000"]}},
   "strokeDash":{"field":"s","type":"nominal","title":null,"scale":{"domain":["Absence","Persistence","Colonization","Extinction"],"range":[[8,5],[1,0],[1,0],[1,0]]}}}},
 {"data":{"name":"r2"},"transform":[{"filter":"datum.p == 'U5'"}],"mark":{"type":"text","text":"R","fontStyle":"italic","fontWeight":"bold","fontSize":16,"align":"left","baseline":"middle"}},
 {"data":{"name":"r2"},"transform":[{"filter":"datum.p == 'U5'"}],"mark":{"type":"text","fontWeight":"bold","fontSize":16,"align":"left","baseline":"middle","dx":11.5},"encoding":{"text":{"field":"t"}}}
]},
{"width":202,"height":201,"resolve":{"axis":{"y":"independent"}},
 "encoding":{
  "x":{"field":"x","type":"quantitative","scale":{"domain":[0,300],"nice":false,"zero":false},"axis":{"values":[0,50,100,150,200,250,300],"tickSize":6,"labels":false,"title":null}},
  "y":{"field":"y","type":"quantitative","scale":{"domain":[0,1],"nice":false,"zero":false},"axis":{"orient":"left","values":[0,0.1,0.2,0.3,0.4,0.5,0.6,0.7,0.8,0.9,1],"tickSize":{"condition":{"test":"abs(datum.value*5-round(datum.value*5))<0.01","value":6},"value":3},"labels":false,"title":null}}},
 "layer":[
 {"data":{"name":"curves"},"transform":[{"filter":"datum.p == 'U6'"}],"mark":{"type":"line"},
  "encoding":{
   "color":{"field":"s","type":"nominal","title":null,"scale":{"domain":["Absence","Persistence","Colonization","Extinction"],"range":["#000000","#000000","#0000ff","#ff0000"]}},
   "strokeDash":{"field":"s","type":"nominal","title":null,"scale":{"domain":["Absence","Persistence","Colonization","Extinction"],"range":[[8,5],[1,0],[1,0],[1,0]]}}}},
 {"data":{"name":"r2"},"transform":[{"filter":"datum.p == 'U6'"}],"mark":{"type":"text","text":"R","fontStyle":"italic","fontWeight":"bold","fontSize":16,"align":"left","baseline":"middle"},"encoding":{"y":{"field":"y","type":"quantitative","axis":{"orient":"right","ticks":false,"labels":false,"domain":false,"title":"Usnea","titleAngle":270,"titleBaseline":"top","titleFontStyle":"italic","titleFontSize":21,"titlePadding":8}}}},
 {"data":{"name":"r2"},"transform":[{"filter":"datum.p == 'U6'"}],"mark":{"type":"text","fontWeight":"bold","fontSize":16,"align":"left","baseline":"middle","dx":11.5},"encoding":{"text":{"field":"t"}}}
]},

{"width":202,"height":201,
 "encoding":{
  "x":{"field":"x","type":"quantitative","scale":{"domain":[-2,8],"nice":false,"zero":false},"axis":{"values":[-2,-1,0,1,2,3,4,5,6,7,8],"tickSize":{"condition":{"test":"datum.value % 2 == 0","value":6},"value":3},"labelExpr":"datum.value % 2 == 0 && datum.value < 7 ? replace(datum.label, '−', '-') : ''","title":"TEMP1, ºC"}},
  "y":{"field":"y","type":"quantitative","scale":{"domain":[0,1],"nice":false,"zero":false},"axis":{"values":[0,0.1,0.2,0.3,0.4,0.5,0.6,0.7,0.8,0.9,1],"format":".1f","tickSize":{"condition":{"test":"abs(datum.value*5-round(datum.value*5))<0.01","value":6},"value":3},"labelExpr":"abs(datum.value*5-round(datum.value*5))<0.01 && datum.value < 0.95 ? datum.label : ''","title":null}}},
 "layer":[
 {"data":{"name":"curves"},"transform":[{"filter":"datum.p == 'B1'"}],"mark":{"type":"line"},
  "encoding":{
   "color":{"field":"s","type":"nominal","title":null,"scale":{"domain":["Absence","Persistence","Colonization","Extinction"],"range":["#000000","#000000","#0000ff","#ff0000"]}},
   "strokeDash":{"field":"s","type":"nominal","title":null,"scale":{"domain":["Absence","Persistence","Colonization","Extinction"],"range":[[8,5],[1,0],[1,0],[1,0]]}}}},
 {"data":{"name":"r2"},"transform":[{"filter":"datum.p == 'B1'"}],"mark":{"type":"text","text":"R","fontStyle":"italic","fontWeight":"bold","fontSize":16,"align":"left","baseline":"middle"}},
 {"data":{"name":"r2"},"transform":[{"filter":"datum.p == 'B1'"}],"mark":{"type":"text","fontWeight":"bold","fontSize":16,"align":"left","baseline":"middle","dx":11.5},"encoding":{"text":{"field":"t"}}}
]},
{"width":202,"height":201,
 "encoding":{
  "x":{"field":"x","type":"quantitative","scale":{"domain":[0.1,0.7],"nice":false,"zero":false},"axis":{"values":[0.1,0.2,0.3,0.4,0.5,0.6,0.7],"tickSize":6,"format":".1f","labelExpr":"datum.value < 0.65 ? datum.label : ''","title":"TEMPΔ, ºC"}},
  "y":{"field":"y","type":"quantitative","scale":{"domain":[0,1],"nice":false,"zero":false},"axis":{"values":[0,0.1,0.2,0.3,0.4,0.5,0.6,0.7,0.8,0.9,1],"tickSize":{"condition":{"test":"abs(datum.value*5-round(datum.value*5))<0.01","value":6},"value":3},"labels":false,"title":null}}},
 "layer":[
 {"data":{"name":"curves"},"transform":[{"filter":"datum.p == 'B2'"}],"mark":{"type":"line"},
  "encoding":{
   "color":{"field":"s","type":"nominal","title":null,"scale":{"domain":["Absence","Persistence","Colonization","Extinction"],"range":["#000000","#000000","#0000ff","#ff0000"]}},
   "strokeDash":{"field":"s","type":"nominal","title":null,"scale":{"domain":["Absence","Persistence","Colonization","Extinction"],"range":[[8,5],[1,0],[1,0],[1,0]]}}}},
 {"data":{"name":"r2"},"transform":[{"filter":"datum.p == 'B2'"}],"mark":{"type":"text","text":"R","fontStyle":"italic","fontWeight":"bold","fontSize":16,"align":"left","baseline":"middle"}},
 {"data":{"name":"r2"},"transform":[{"filter":"datum.p == 'B2'"}],"mark":{"type":"text","fontWeight":"bold","fontSize":16,"align":"left","baseline":"middle","dx":11.5},"encoding":{"text":{"field":"t"}}}
]},
{"width":202,"height":201,
 "encoding":{
  "x":{"field":"x","type":"quantitative","scale":{"domain":[300,1200],"nice":false,"zero":false},"axis":{"values":[300,400,500,600,700,800,900,1000,1100,1200],"format":"d","tickSize":{"condition":{"test":"datum.value % 200 == 0","value":6},"value":3},"labelExpr":"datum.value % 200 == 0 && datum.value < 1100 ? datum.label : ''","title":"RAIN1, mm, year⁻¹"}},
  "y":{"field":"y","type":"quantitative","scale":{"domain":[0,1],"nice":false,"zero":false},"axis":{"values":[0,0.1,0.2,0.3,0.4,0.5,0.6,0.7,0.8,0.9,1],"tickSize":{"condition":{"test":"abs(datum.value*5-round(datum.value*5))<0.01","value":6},"value":3},"labels":false,"title":null}}},
 "layer":[
 {"data":{"name":"curves"},"transform":[{"filter":"datum.p == 'B3'"}],"mark":{"type":"line"},
  "encoding":{
   "color":{"field":"s","type":"nominal","title":null,"scale":{"domain":["Absence","Persistence","Colonization","Extinction"],"range":["#000000","#000000","#0000ff","#ff0000"]}},
   "strokeDash":{"field":"s","type":"nominal","title":null,"scale":{"domain":["Absence","Persistence","Colonization","Extinction"],"range":[[8,5],[1,0],[1,0],[1,0]]}}}},
 {"data":{"name":"r2"},"transform":[{"filter":"datum.p == 'B3'"}],"mark":{"type":"text","text":"R","fontStyle":"italic","fontWeight":"bold","fontSize":16,"align":"left","baseline":"middle"}},
 {"data":{"name":"r2"},"transform":[{"filter":"datum.p == 'B3'"}],"mark":{"type":"text","fontWeight":"bold","fontSize":16,"align":"left","baseline":"middle","dx":11.5},"encoding":{"text":{"field":"t"}}}
]},
{"width":202,"height":201,
 "encoding":{
  "x":{"field":"x","type":"quantitative","scale":{"domain":[2,18],"nice":false,"zero":false},"axis":{"values":[2,4,6,8,10,12,14,16,18],"tickSize":6,"labelExpr":"datum.value < 17 ? datum.label : ''","title":"NDEP1, kg N ha⁻¹ year⁻¹"}},
  "y":{"field":"y","type":"quantitative","scale":{"domain":[0,1],"nice":false,"zero":false},"axis":{"values":[0,0.1,0.2,0.3,0.4,0.5,0.6,0.7,0.8,0.9,1],"tickSize":{"condition":{"test":"abs(datum.value*5-round(datum.value*5))<0.01","value":6},"value":3},"labels":false,"title":null}}},
 "layer":[
 {"data":{"name":"curves"},"transform":[{"filter":"datum.p == 'B4'"}],"mark":{"type":"line"},
  "encoding":{
   "color":{"field":"s","type":"nominal","title":null,"scale":{"domain":["Absence","Persistence","Colonization","Extinction"],"range":["#000000","#000000","#0000ff","#ff0000"]}},
   "strokeDash":{"field":"s","type":"nominal","title":null,"scale":{"domain":["Absence","Persistence","Colonization","Extinction"],"range":[[8,5],[1,0],[1,0],[1,0]]}}}},
 {"data":{"name":"r2"},"transform":[{"filter":"datum.p == 'B4'"}],"mark":{"type":"text","text":"R","fontStyle":"italic","fontWeight":"bold","fontSize":16,"align":"left","baseline":"middle"}},
 {"data":{"name":"r2"},"transform":[{"filter":"datum.p == 'B4'"}],"mark":{"type":"text","fontWeight":"bold","fontSize":16,"align":"left","baseline":"middle","dx":11.5},"encoding":{"text":{"field":"t"}}}
]},
{"width":202,"height":201,
 "encoding":{
  "x":{"field":"x","type":"quantitative","scale":{"domain":[-5,1],"nice":false,"zero":false},"axis":{"values":[-5,-4,-3,-2,-1,0,1],"tickSize":6,"labelExpr":"datum.value < 0.5 ? datum.label : ''","title":"NDEPΔ, kg N ha⁻¹ year⁻¹"}},
  "y":{"field":"y","type":"quantitative","scale":{"domain":[0,1],"nice":false,"zero":false},"axis":{"values":[0,0.1,0.2,0.3,0.4,0.5,0.6,0.7,0.8,0.9,1],"tickSize":{"condition":{"test":"abs(datum.value*5-round(datum.value*5))<0.01","value":6},"value":3},"labels":false,"title":null}}},
 "layer":[
 {"data":{"name":"curves"},"transform":[{"filter":"datum.p == 'B5'"}],"mark":{"type":"line"},
  "encoding":{
   "color":{"field":"s","type":"nominal","title":null,"scale":{"domain":["Absence","Persistence","Colonization","Extinction"],"range":["#000000","#000000","#0000ff","#ff0000"]}},
   "strokeDash":{"field":"s","type":"nominal","title":null,"scale":{"domain":["Absence","Persistence","Colonization","Extinction"],"range":[[8,5],[1,0],[1,0],[1,0]]}}}},
 {"data":{"name":"r2"},"transform":[{"filter":"datum.p == 'B5'"}],"mark":{"type":"text","text":"R","fontStyle":"italic","fontWeight":"bold","fontSize":16,"align":"left","baseline":"middle"}},
 {"data":{"name":"r2"},"transform":[{"filter":"datum.p == 'B5'"}],"mark":{"type":"text","fontWeight":"bold","fontSize":16,"align":"left","baseline":"middle","dx":11.5},"encoding":{"text":{"field":"t"}}}
]},
{"width":202,"height":201,"resolve":{"axis":{"y":"independent"}},
 "encoding":{
  "x":{"field":"x","type":"quantitative","scale":{"domain":[0,300],"nice":false,"zero":false},"axis":{"values":[0,50,100,150,200,250,300],"tickSize":6,"title":"AGE1, year"}},
  "y":{"field":"y","type":"quantitative","scale":{"domain":[0,1],"nice":false,"zero":false},"axis":{"orient":"left","values":[0,0.1,0.2,0.3,0.4,0.5,0.6,0.7,0.8,0.9,1],"tickSize":{"condition":{"test":"abs(datum.value*5-round(datum.value*5))<0.01","value":6},"value":3},"labels":false,"title":null}}},
 "layer":[
 {"data":{"name":"curves"},"transform":[{"filter":"datum.p == 'B6'"}],"mark":{"type":"line"},
  "encoding":{
   "color":{"field":"s","type":"nominal","title":null,"scale":{"domain":["Absence","Persistence","Colonization","Extinction"],"range":["#000000","#000000","#0000ff","#ff0000"]}},
   "strokeDash":{"field":"s","type":"nominal","title":null,"scale":{"domain":["Absence","Persistence","Colonization","Extinction"],"range":[[8,5],[1,0],[1,0],[1,0]]}}}},
 {"data":{"name":"r2"},"transform":[{"filter":"datum.p == 'B6'"}],"mark":{"type":"text","text":"R","fontStyle":"italic","fontWeight":"bold","fontSize":16,"align":"left","baseline":"middle"},"encoding":{"y":{"field":"y","type":"quantitative","axis":{"orient":"right","ticks":false,"labels":false,"domain":false,"title":"Bryoria","titleAngle":270,"titleBaseline":"top","titleFontStyle":"italic","titleFontSize":21,"titlePadding":8}}}},
 {"data":{"name":"r2"},"transform":[{"filter":"datum.p == 'B6'"}],"mark":{"type":"text","fontWeight":"bold","fontSize":16,"align":"left","baseline":"middle","dx":11.5},"encoding":{"text":{"field":"t"}}}
]}
],
"config":{
 "font":"Liberation Sans",
 "view":{"stroke":"#000000","strokeWidth":1.5},
 "axis":{"domain":false,"grid":false,"ticks":true,"tickColor":"#000000","tickWidth":1.5,"labelFont":"Liberation Sans","labelFontSize":14,"labelFontWeight":"bold","labelColor":"#000000","labelPadding":2,"labelFlush":false,"labelOverlap":false,"titleFont":"Liberation Sans","titleFontSize":17,"titleFontWeight":"bold","titleColor":"#000000"},
 "axisX":{"titlePadding":6},
 "line":{"strokeWidth":3,"interpolate":"monotone"},
 "text":{"font":"Liberation Sans","color":"#000000"},
 "legend":{"symbolType":"stroke","symbolSize":1600,"symbolStrokeWidth":3.5,"labelFont":"Liberation Sans","labelFontSize":18.5,"labelFontWeight":"bold","labelColor":"#000000","columnPadding":15,"labelOffset":8,"labelLimit":0}
}
}
